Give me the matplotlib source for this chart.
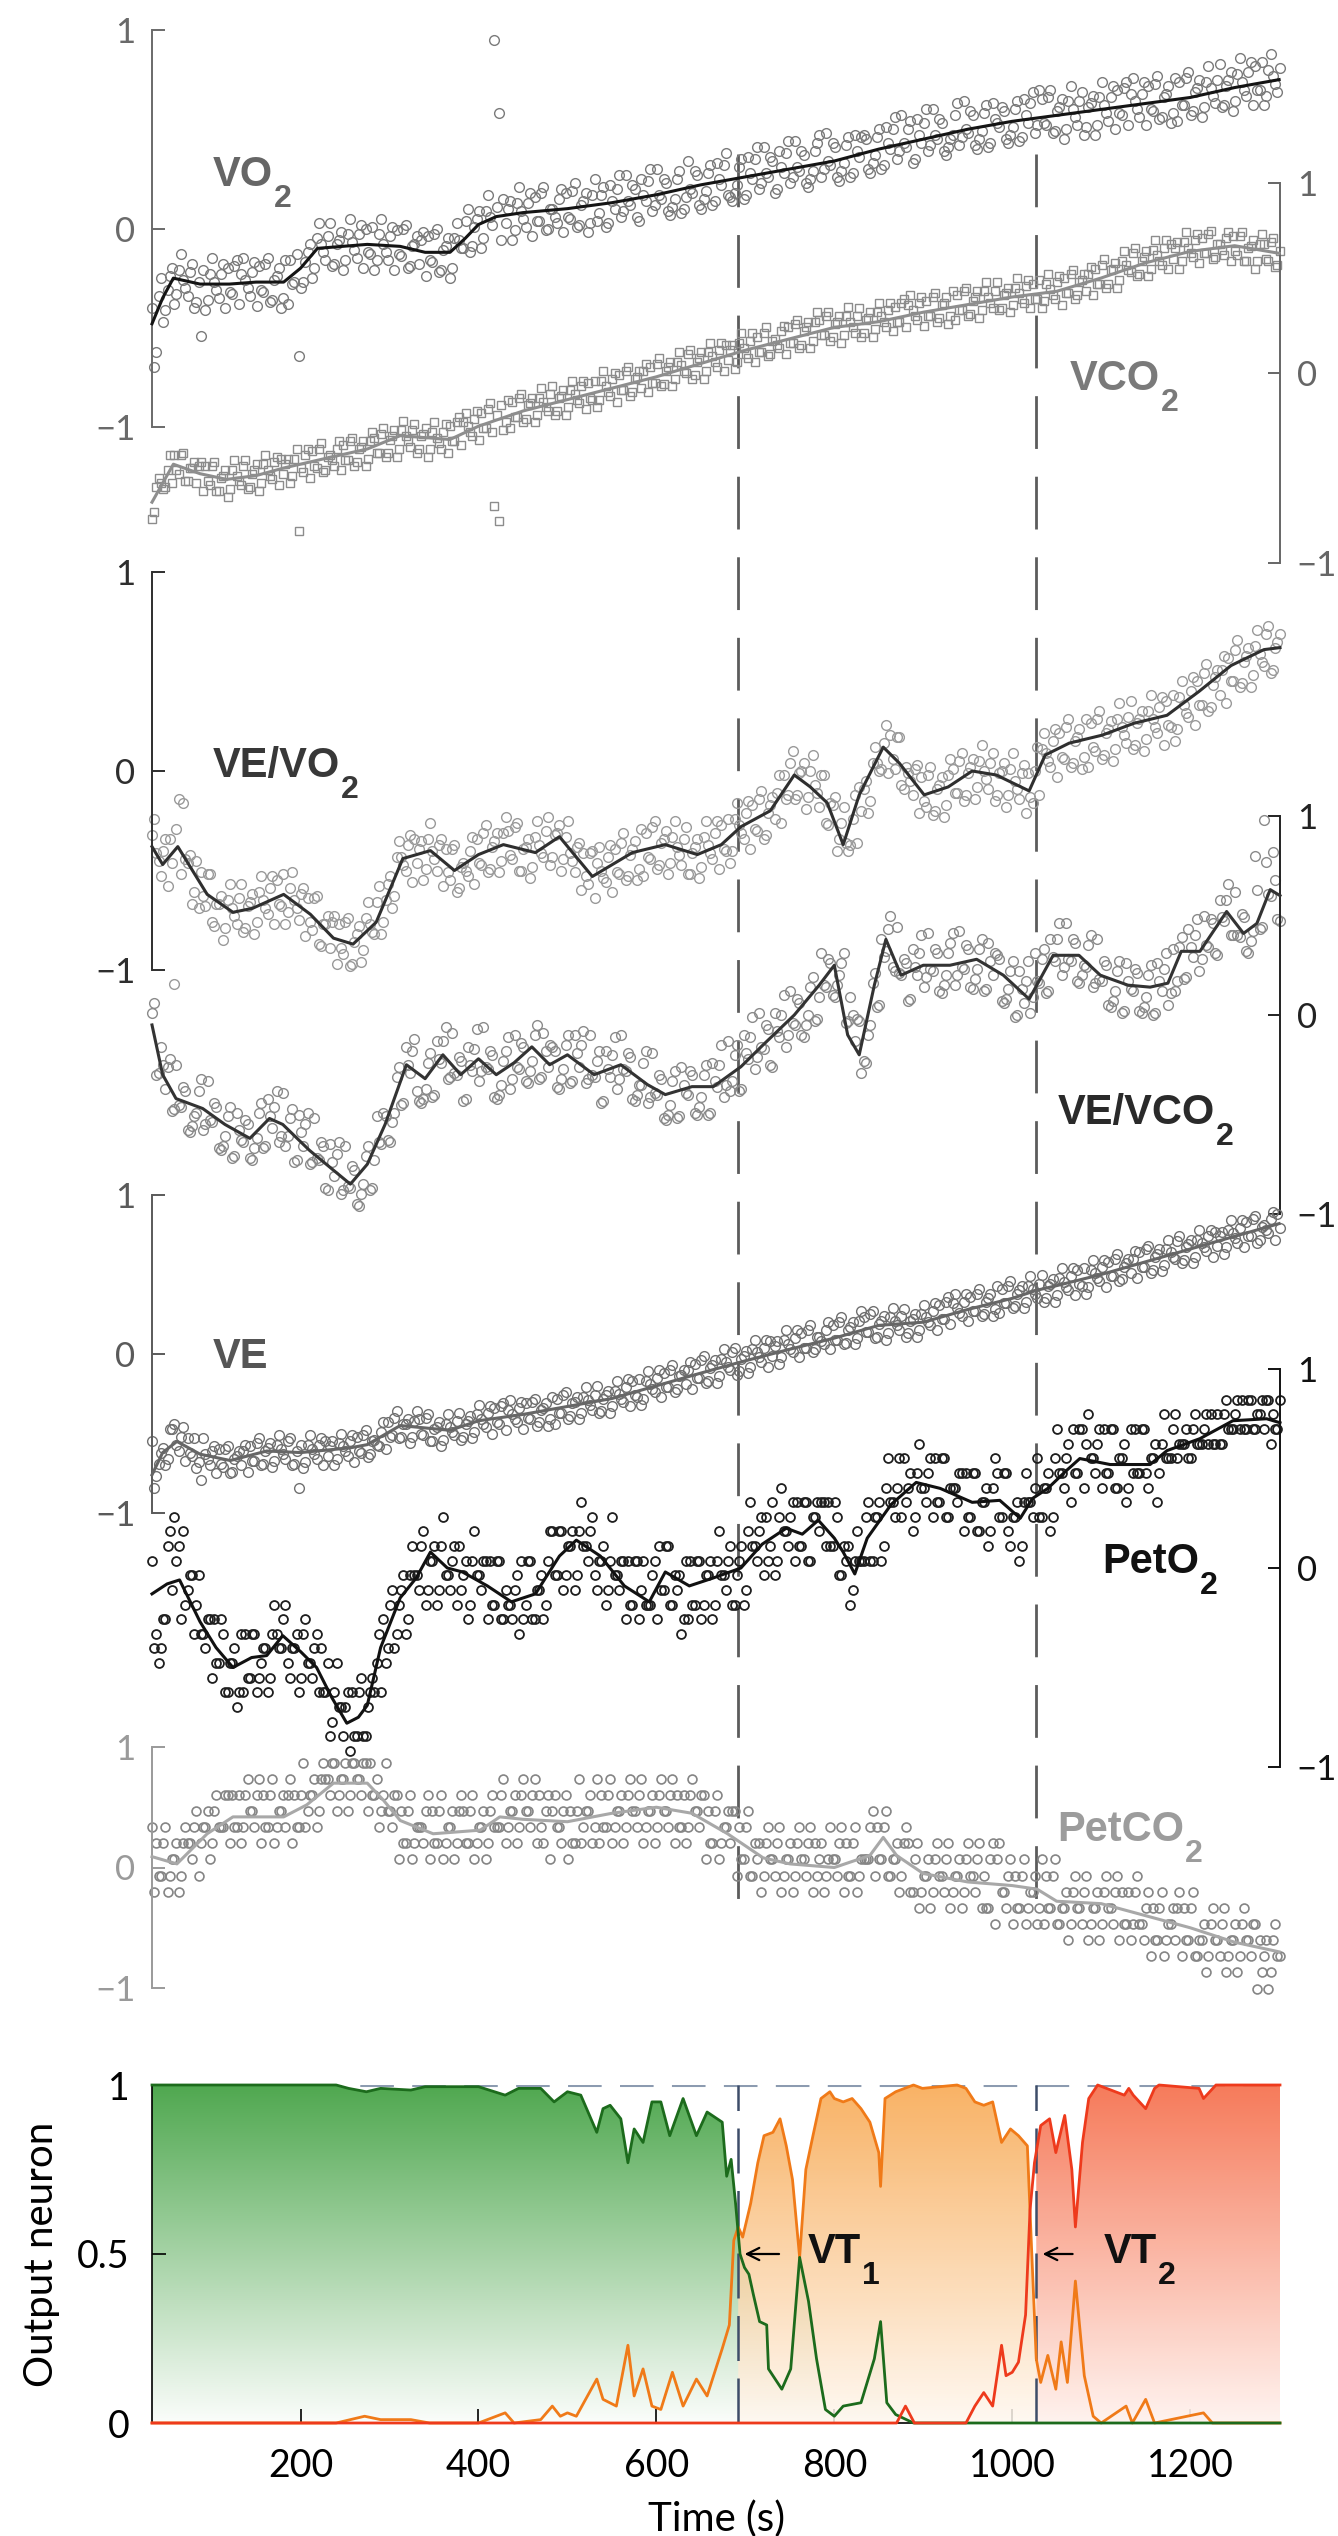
import numpy as np
import matplotlib
matplotlib.use('Agg')
import matplotlib.pyplot as plt
from matplotlib.colors import LinearSegmentedColormap
from matplotlib.patches import Polygon

plt.rcParams['font.family'] = ['Liberation Sans', 'DejaVu Sans']
plt.rcParams['axes.unicode_minus'] = True

# ------------------------------------------------------------------ data
T_START, T_END = 33, 1301
VT1, VT2 = 692, 1027
t_breath = np.arange(33, 1301, 5)          # breath samples (s), set A
t_breath2 = np.arange(35.5, 1301, 5)       # breath samples (s), set B

# values in hundredths of the normalised axis unit
vo2 = [-40,-62,-25,-41,-24,-38,-21,-26,-34,-18, -37,-54,-41,-23,-27,-35,-18,-20,-33,-16,
       -23,-26,-34,-17,-19,-32,-15,-36,-24,-40, -16,-16,-27,-64,-27,-12,-25,-5,-8,-16,
       3,-18,-6,-21,-3,-7,-15,2,0,-13, -21,-3,-8,-16,1,-1,-14,2,-19,-8,
       -18,-2,-4,-17,0,-21,-9,-25,-5,-6, -10,10,-9,5,-10,9,6,95,58,15,
       10,-6,13,9,1,18,16,4,21,0, 10,3,20,18,5,23,2,14,-2,17,
       4,17,1,22,10,27,9,14,22,6, 25,14,30,12,17,25,9,11,25,8,
       16,20,29,12,15,28,12,33,22,38, 16,18,31,15,36,25,41,23,28,36,
       18,39,28,44,26,31,39,23,25,39, 47,30,34,43,26,29,42,26,47,36,
       47,30,33,46,30,51,40,56,39,43, 50,33,55,43,60,42,47,55,39,41,
       47,63,46,50,59,42,45,58,41,63, 53,61,45,47,60,44,65,53,69,52,
       65,52,70,49,61,45,64,60,52,69, 51,63,47,66,62,54,72,70,57,74,
       68,64,56,74,72,59,77,56,68,53, 76,74,62,79,59,71,56,74,71,63,
       83,62,75,59,78,74,67,84,82,70, 62,80,77,69]
vo2_b = [-70,-34,-47,-31,-20,-33,-13,-30,-22,-40, -27,-21,-36,-15,-31,-23,-40,-32,-19,-38,
         -15,-30,-22,-39,-31,-18,-37,-26,-20,-35, -38,-28,-13,-30,-17,-8,-20,3,-12,-4,
         -19,-8,-2,-16,5,-11,-3,-20,-12,1, -16,5,-12,-4,-21,-13,0,-20,-9,-4,
         -6,-24,-16,-3,-22,-11,-5,-20,3,-10, 4,-12,1,9,-5,17,2,11,-6,3,
         14,-1,21,5,13,-4,4,18,-1,10, 6,15,-2,6,19,1,12,18,3,25,
         8,21,3,14,20,6,27,12,20,4, 17,24,9,30,15,23,7,15,29,10,
         34,18,27,10,19,32,14,25,32,17, 14,22,35,17,28,35,20,41,26,34,
         20,31,38,23,44,29,37,21,29,43, 26,48,32,41,24,33,46,28,39,46,
         45,28,37,50,32,43,50,35,57,41, 54,35,47,53,39,60,45,53,37,45,
         57,42,64,48,57,40,49,62,43,55, 51,59,43,51,64,46,57,63,48,70,
         53,66,48,59,65,50,72,56,64,47, 61,67,52,74,58,66,50,58,71,52,
         76,60,68,52,60,73,55,66,72,58, 54,62,76,57,69,75,61,82,67,75,
         61,72,79,64,86,70,79,62,70,84, 67,88,73,81]
vo2_line_t = [33,45,57,87,120,150,181,200,219,275,312,340,368,385,400,420,450,500,550,600,
              650,700,750,800,850,900,950,1000,1050,1100,1150,1200,1250,1300]
vo2_line_v = [-48,-35,-25,-28,-28,-27,-27,-20,-10,-8,-9,-12,-12,-5,2,6,8,10,13,17,
              22,26,30,34,40,45,50,54,57,60,63,66,71,75]

vco2 = [-77,-60,-58,-60,-43,-43,-53,-42,-57,-50, -58,-47,-49,-59,-47,-62,-54,-65,-51,-54,
        -59,-46,-60,-51,-62,-48,-51,-56,-44,-45, -48,-58,-45,-83,-52,-40,-41,-50,-37,-51,
        -43,-49,-36,-38,-46,-34,-47,-39,-49,-36, -34,-42,-29,-42,-33,-44,-30,-33,-39,-27,
        -40,-32,-44,-31,-34,-40,-27,-28,-36,-23, -26,-28,-33,-20,-21,-29,-16,-70,-78,-30,
        -14,-15,-23,-11,-24,-16,-26,-13,-15,-20, -7,-20,-12,-22,-9,-11,-16,-4,-5,-14,
        -18,-4,-7,-12,0,-1,-9,3,-10,-2, -8,5,3,-5,8,-6,3,-7,6,4,
        0,12,-1,8,-3,11,9,3,16,15, 12,2,16,13,8,21,19,11,24,10,
        18,13,25,24,16,28,15,24,13,27, 28,20,32,19,27,16,30,27,21,34,
        21,29,19,32,30,24,37,35,27,39, 36,33,28,40,38,30,42,29,37,26,
        43,41,33,45,31,40,29,43,40,34, 48,34,42,32,45,42,37,49,47,39,
        34,47,44,39,51,50,42,54,41,49, 43,56,55,47,60,47,55,45,59,57,
        53,66,52,61,51,65,62,57,70,68, 66,55,69,66,61,73,71,63,75,61,
        68,62,74,72,62,74,59,67,55,68, 68,59,71,57]
vco2_b = [-73,-55,-61,-51,-58,-51,-43,-57,-50,-47, -49,-62,-57,-49,-62,-55,-51,-61,-46,-57,
          -49,-61,-53,-48,-58,-43,-54,-47,-59,-53, -45,-54,-40,-50,-43,-55,-49,-40,-52,-44,
          -46,-40,-51,-46,-36,-49,-40,-36,-45,-31, -42,-32,-44,-35,-30,-40,-25,-36,-30,-42,
          -33,-29,-40,-26,-37,-31,-42,-36,-26,-38, -21,-31,-24,-35,-29,-19,-31,-22,-17,-26,
          -29,-23,-13,-26,-17,-13,-22,-8,-18,-11, -22,-13,-9,-18,-4,-14,-7,-19,-13,-4,
          -14,1,-10,-3,-15,-9,1,-12,-3,1, 1,-10,-5,5,-7,1,6,-3,11,1,
          10,-3,6,11,1,16,6,12,1,7, 15,6,21,10,17,6,11,21,9,17,
          15,22,10,16,26,13,22,27,17,32, 20,30,17,26,30,20,35,24,30,19,
          28,32,23,37,27,33,22,27,37,24, 41,30,37,25,30,40,27,36,40,30,
          28,33,43,30,38,43,33,48,37,43, 33,41,45,36,50,39,46,34,39,49,
          38,52,41,48,36,42,52,39,48,52, 52,41,47,57,45,54,58,49,64,54,
          63,51,59,64,55,70,59,66,55,60, 69,59,74,63,70,58,63,73,60,68,
          65,71,59,64,72,59,66,70,59,73, 60,69,56,64]
vco2_line_t = [33,57,87,117,150,181,237,275,312,368,400,450,500,550,600,650,700,750,800,850,
               900,950,1000,1050,1100,1150,1200,1250,1300]
vco2_line_v = [-68,-48,-53,-56,-54,-50,-44,-40,-33,-35,-28,-20,-14,-8,-2,5,12,18,24,27,
               32,36,40,43,50,58,64,67,63]

ve_vo2 = [-32,-41,-53,-34,-34,-107,-14,-16,-46,-67, -45,-51,-68,-52,-78,-67,-85,-65,-69,-77,
          -57,-79,-66,-82,-61,-65,-72,-53,-55,-68, -77,-59,-65,-75,-59,-64,-80,-63,-88,-77,
          -89,-73,-77,-92,-74,-97,-82,-96,-74,-77, -82,-58,-76,-57,-69,-43,-43,-50,-32,-34,
          -39,-55,-34,-40,-50,-34,-39,-55,-37,-59, -46,-53,-33,-34,-47,-27,-49,-35,-51,-31,
          -30,-44,-26,-50,-38,-54,-33,-37,-43,-23, -43,-31,-50,-33,-41,-51,-36,-41,-57,-40,
          -46,-50,-56,-37,-39,-52,-31,-53,-39,-55, -29,-31,-44,-25,-47,-34,-52,-33,-38,-47,
          -28,-52,-38,-54,-33,-37,-44,-25,-27,-40, -46,-24,-27,-34,-15,-17,-30,-10,-32,-17,
          -24,-2,-2,-12,10,-12,0,-19,0,-7, -18,-2,-27,-17,-40,-26,-36,-37,-12,-8,
          -9,-21,4,4,1,23,18,1,17,-9, -1,-12,3,-3,-18,2,-20,-7,-23,-2,
          1,-11,9,-12,2,-14,5,0,-9,9, -12,0,-18,1,-5,-14,3,-1,-16,12,
          11,9,2,21,19,6,26,4,17,1, 26,24,10,30,8,21,5,26,22,14,
          35,13,26,10,30,26,19,37,35,22, 15,37,33,27,47,45,33,54,32,47,
          38,58,57,45,66,44,58,42,63,59, 53,73,51,65]
ve_vo2_b = [-24,-45,-40,-58,-46,-29,-52,-44,-42,-61, -69,-63,-52,-76,-67,-63,-79,-57,-73,-64,
            -81,-68,-62,-76,-53,-69,-59,-77,-67,-52, -71,-51,-69,-62,-83,-76,-64,-87,-77,-73,
            -76,-97,-89,-76,-98,-86,-78,-90,-66,-81, -66,-82,-65,-53,-63,-35,-47,-37,-56,-46,
            -35,-49,-26,-44,-37,-58,-51,-39,-61,-48, -50,-40,-57,-46,-31,-51,-38,-31,-45,-23,
            -42,-28,-50,-39,-34,-48,-25,-41,-30,-47, -32,-27,-44,-25,-45,-38,-60,-53,-41,-64,
            -38,-54,-43,-61,-51,-36,-55,-42,-35,-49, -53,-43,-28,-49,-36,-30,-46,-25,-42,-34,
            -52,-41,-34,-48,-25,-41,-31,-49,-39,-24, -40,-16,-31,-21,-39,-29,-14,-34,-21,-13,
            -11,-26,-14,4,-14,-1,4,-13,8,-11, -2,-26,-16,-13,-34,-18,-40,-24,-36,-20,
            -5,-15,12,0,14,-1,6,17,-7,2, -5,1,-21,-15,-2,-22,-9,-3,-17,6,
            -11,5,-15,-1,6,-8,13,-4,4,-15, -1,4,-12,9,-9,-1,-21,-13,0,-12,
            19,5,15,-3,7,22,2,15,21,7, 2,12,26,6,19,25,11,34,18,27,
            11,24,30,16,38,22,32,13,23,38, 21,45,29,40,23,33,49,30,43,51,
            51,34,45,61,42,55,62,48,71,55, 69,49,62,69]
ve_vo2_line_t = [33,45,62,95,124,146,181,211,237,259,285,315,346,373,400,428,464,491,528,573,
                 610,646,673,695,728,755,773,792,810,828,855,873,901,928,955,982,1019,1037,1064,1101,
                 1137,1174,1210,1246,1283,1301]
ve_vo2_line_v = [-38,-47,-38,-62,-71,-69,-62,-72,-84,-87,-76,-44,-40,-50,-42,-37,-41,-33,-53,-41,
                 -37,-42,-37,-28,-20,-2,-8,-16,-37,-12,12,4,-12,-8,0,-2,-10,8,14,18,
                 24,28,40,53,61,62]

ve_vco2 = [1,-30,-16,-37,-22,-47,-45,-36,-58,-56, -49,-32,-55,-53,-44,-67,-66,-51,-72,-49,
           -63,-53,-72,-67,-49,-67,-42,-57,-38,-61, -66,-52,-74,-50,-66,-49,-74,-72,-64,-87,
           -65,-81,-64,-88,-86,-76,-95,-90,-71,-88, -73,-64,-49,-63,-54,-31,-45,-16,-29,-12,
           -43,-42,-24,-41,-13,-24,-6,-31,-29,-21, -43,-16,-28,-7,-28,-26,-18,-41,-40,-23,
           -11,-32,-26,-14,-33,-28,-10,-32,-9,-26, -16,-36,-32,-15,-34,-10,-26,-8,-32,-30,
           -23,-44,-18,-31,-11,-32,-27,-19,-42,-40, -35,-18,-41,-39,-30,-52,-50,-33,-52,-26,
           -39,-28,-49,-46,-30,-50,-24,-36,-15,-35, -38,-20,-38,-10,-22,-1,-21,-16,-5,-25,
           1,-11,10,-10,-4,8,-10,-5,14,-3, 9,15,28,10,15,26,-4,9,-13,-3,
           -23,-10,16,4,38,32,50,22,21,28, 7,33,20,40,19,23,33,12,15,31,
           41,20,24,35,14,18,33,12,36,20, 30,7,8,22,-1,22,6,27,9,17,
           28,11,38,27,46,24,28,38,17,20, 24,40,16,18,27,5,7,22,1,26,
           13,23,2,4,20,0,26,12,31,11, 12,34,18,43,29,48,28,35,48,31,
           58,47,66,40,40,51,32,37,80,43, 98,61,82,48]
ve_vco2_b = [6,-29,-25,-26,-48,-25,-46,-38,-59,-51, -38,-58,-33,-54,-46,-68,-61,-46,-71,-58,
             -64,-55,-73,-62,-44,-66,-51,-46,-64,-39, -61,-47,-73,-59,-55,-75,-52,-73,-66,-88,
             -74,-70,-90,-66,-87,-78,-96,-85,-66,-87, -51,-65,-51,-64,-49,-26,-44,-25,-18,-38,
             -44,-37,-19,-40,-22,-13,-32,-9,-30,-23, -42,-25,-17,-33,-6,-27,-20,-42,-35,-18,
             -37,-10,-27,-16,-34,-23,-5,-31,-18,-15, -18,-37,-27,-10,-33,-19,-15,-34,-10,-31,
             -18,-43,-27,-20,-37,-10,-28,-21,-43,-35, -24,-44,-19,-40,-32,-53,-45,-28,-51,-35,
             -40,-30,-50,-41,-25,-49,-33,-25,-41,-13, -33,-15,-37,-19,-11,-27,1,-17,-7,-26,
             -8,0,-16,12,-5,6,-11,0,19,-2, 31,14,26,9,20,31,-3,0,-2,-29,
             -24,-5,21,5,29,43,24,44,20,26, 8,24,31,14,41,22,31,11,20,36,
             15,42,23,33,13,23,38,13,27,31, 28,6,13,27,0,13,17,1,31,16,
             33,12,29,38,20,46,27,36,16,25, 35,14,38,17,25,4,12,27,2,17,
             12,21,1,9,25,1,17,23,5,33, 17,39,19,34,40,22,50,34,46,30,
             49,58,40,62,39,49,31,42,63,44, 77,60,68,47]
ve_vco2_line_t = [33,45,60,90,115,143,165,180,210,237,256,275,295,319,340,360,380,400,420,440,
                  460,480,500,530,560,590,610,640,664,695,720,755,783,800,815,828,845,858,875,900,
                  930,960,990,1019,1046,1075,1099,1130,1155,1175,1190,1211,1241,1260,1275,1290,1301]
ve_vco2_line_v = [-5,-30,-42,-47,-55,-62,-52,-55,-68,-78,-85,-75,-55,-25,-32,-20,-30,-22,-30,-24,
                  -16,-25,-20,-30,-25,-35,-40,-36,-36,-26,-15,0,15,25,-10,-20,15,38,20,25,
                  25,28,20,8,30,30,20,15,14,16,32,32,52,41,46,63,60]

ve = [-55,-77,-62,-70,-47,-44,-61,-46,-53,-64, -72,-79,-63,-70,-58,-60,-71,-58,-74,-64,
      -70,-57,-58,-67,-53,-69,-59,-71,-57,-60, -66,-53,-69,-84,-72,-57,-60,-66,-53,-55,
      -58,-70,-56,-58,-64,-51,-52,-62,-48,-63, -54,-58,-43,-43,-51,-36,-52,-44,-56,-42,
      -41,-51,-38,-55,-46,-58,-44,-46,-51,-37, -52,-42,-53,-38,-41,-46,-33,-34,-44,-31,
      -35,-38,-43,-30,-31,-41,-28,-43,-34,-45, -27,-28,-37,-24,-39,-30,-41,-27,-29,-35,
      -20,-36,-26,-37,-23,-25,-30,-16,-17,-27, -32,-17,-19,-24,-10,-12,-21,-7,-22,-13,
      -19,-5,-6,-15,-1,-17,-7,-18,-3,-5, -10,4,-11,-1,-12,3,1,-5,9,8,
      5,-6,9,6,1,15,13,4,18,3, 11,6,20,18,9,23,7,17,6,21,
      23,14,27,11,21,9,23,21,15,28, 13,22,11,25,23,18,32,31,22,36,
      32,29,24,38,36,27,41,25,35,24, 43,41,32,46,30,40,29,43,41,35,
      50,35,44,33,48,45,40,54,53,43, 38,53,51,46,59,58,49,63,47,57,
      51,65,64,55,68,53,63,52,66,64, 60,74,59,69,57,72,70,65,78,77,
      74,63,78,76,70,84,83,74,87,72, 81,76,89,88]
ve_b = [-84,-69,-59,-66,-47,-57,-52,-67,-62,-53, -68,-53,-66,-61,-75,-69,-60,-75,-66,-61,
        -61,-74,-67,-56,-70,-61,-56,-67,-51,-63, -55,-70,-61,-57,-68,-51,-63,-57,-70,-64,
        -55,-66,-50,-61,-55,-68,-61,-51,-65,-55, -57,-49,-60,-52,-40,-53,-44,-41,-52,-36,
        -50,-40,-55,-47,-43,-54,-38,-49,-42,-54, -44,-39,-49,-32,-44,-37,-50,-43,-33,-48,
        -29,-41,-34,-47,-40,-30,-45,-35,-31,-41, -44,-37,-26,-41,-31,-27,-37,-21,-32,-26,
        -37,-28,-23,-33,-17,-28,-21,-33,-26,-16, -28,-11,-22,-15,-27,-21,-10,-24,-14,-10,
        -10,-22,-15,-4,-18,-9,-4,-14,3,-8, 1,-13,-3,2,-8,9,-2,4,-8,-1,
        8,-2,15,3,10,-2,4,15,1,11, 8,15,3,9,20,6,15,20,10,27,
        14,25,10,19,24,13,29,18,24,11, 21,25,15,31,20,27,15,22,33,19,
        38,26,33,21,27,38,24,33,38,28, 26,32,43,29,38,43,33,49,38,44,
        33,43,47,37,54,42,49,37,44,54, 42,59,48,55,42,49,60,46,55,60,
        60,48,55,66,51,61,66,56,72,61, 71,57,67,72,61,78,67,74,61,68,
        77,67,84,73,79,67,74,85,70,80, 78,85,72,79]
ve_line_t = [33,45,61,87,121,162,200,256,275,312,368,400,450,500,550,600,650,695,750,800,
             850,900,950,1000,1027,1050,1100,1150,1200,1250,1300]
ve_line_v = [-76,-62,-55,-63,-67,-61,-62,-59,-57,-45,-48,-42,-38,-33,-28,-20,-12,-5,3,10,
             18,20,28,35,40,43,50,58,66,74,82]

PETO2_STEP = 0.0735          # PetO2 resolution (axis units); values stored as level index
peto2_level = [0,-5,-6,-4,2,3,1,2,-2,-1, -3,-5,-6,-4,-4,-7,-5,-9,-7,-10,
               -5,-5,-8,-5,-8,-6,-9,-5,-5,-6, -3,-8,-6,-9,-5,-7,-8,-5,-6,-9,
               -12,-9,-10,-12,-9,-9,-12,-8,-12,-9, -9,-5,-4,-6,-2,-5,-2,-5,-1,-1,
               -2,2,-2,0,-3,1,-1,-2,1,1, -1,-4,0,-1,-2,0,0,-3,0,-4,
               -3,-4,-1,0,-3,0,-4,-2,-4,0, 2,-1,2,-1,1,-2,2,1,0,3,
               -2,0,-3,0,-1,-2,0,0,-3,0, -2,-3,-3,0,1,-2,1,-3,-2,-5,
               0,0,-3,0,-3,-1,-4,0,-1,-2, 1,-3,0,-3,2,1,0,3,3,1,
               -1,3,2,1,4,4,1,4,0,3, 2,4,4,1,3,-1,0,-3,0,0,
               0,4,0,3,0,5,4,3,7,7, 5,2,6,5,4,7,7,4,7,3,
               5,4,6,6,3,6,2,4,1,5, 6,3,6,1,3,0,4,4,3,7,
               3,5,2,7,6,5,8,9,6,9, 8,7,6,9,9,6,9,5,7,4,
               9,9,6,9,5,7,4,8,7,7, 10,8,8,7,9,8,8,10,10,8,
               8,10,9,9,11,11,9,11,9,10, 9,11,10,9]
peto2_level_b = [-6,-7,-4,1,-2,0,-4,-3,-1,-5, -1,-5,-4,-8,-7,-4,-9,-7,-6,-9,
                 -9,-8,-5,-9,-7,-6,-8,-3,-6,-4, -7,-6,-5,-8,-4,-7,-6,-9,-9,-7,
                 -11,-7,-10,-10,-13,-12,-9,-12,-10,-8, -7,-9,-7,-3,-6,-3,-1,-4,1,-1,
                 1,-3,0,1,-2,3,-1,0,-3,-2, 0,-3,2,-1,0,-4,-3,0,-4,-2,
                 -3,-2,-5,-4,0,-4,-2,-1,-3,2, -1,2,-2,1,2,-1,4,1,2,-1,
                 0,1,-2,3,-1,0,-4,-3,0,-4, 0,-3,-1,-4,-2,1,-3,-1,-1,-4,
                 -4,-3,0,-4,-1,0,-3,2,-1,0, -3,-1,1,-2,4,1,2,-1,0,4,
                 0,5,2,3,0,1,4,0,3,4, 4,1,1,4,-1,1,1,-2,2,0,
                 3,0,3,4,1,7,4,5,3,4, 6,3,8,5,6,3,4,7,3,5,
                 5,6,2,3,6,2,4,5,2,7, 3,6,2,3,4,1,6,4,5,3,
                 5,6,3,9,6,7,4,6,9,5, 10,7,8,5,6,9,5,7,8,5,
                 6,6,9,6,7,8,6,10,7,9, 7,8,9,7,10,8,9,8,8,10,
                 8,11,9,10,9,9,11,9,10,11, 11,8,9,11]
peto2_line_t = [33,50,64,87,105,124,145,162,180,200,218,235,252,265,275,290,312,330,346,365,
                382,410,437,464,491,510,537,564,592,610,637,664,695,719,746,764,782,800,810,823,
                837,864,892,919,955,986,1009,1023,1040,1061,1076,1110,1155,1174,1211,1248,1286,1301]
peto2_line_v = [-13,-8,-6,-27,-40,-50,-45,-44,-34,-42,-50,-65,-78,-75,-69,-40,-15,-5,8,0,
                -2,-9,-17,-13,6,14,6,-9,-17,-2,-9,-5,0,12,20,17,24,15,8,-3,
                15,32,43,40,33,34,25,35,40,49,55,52,52,59,65,74,75,73]

PETCO2_STEP = 0.134          # PetCO2 resolution (axis units); values stored as level index
petco2_level = [2,1,-1,2,-1,0,-2,1,1,0, 3,1,2,0,3,2,2,4,4,2,
                1,4,3,2,5,4,2,5,2,3, 2,5,4,2,6,3,4,2,5,5,
                4,6,4,5,3,6,5,4,6,6, 4,2,4,3,2,4,3,1,4,1,
                2,1,4,3,1,4,1,2,0,3, 3,1,4,1,2,0,3,2,2,5,
                2,3,1,4,3,2,5,4,1,4, 3,2,1,4,3,1,5,2,3,1,
                5,4,2,5,2,3,1,4,3,2, 5,2,3,1,4,3,2,5,4,2,
                1,4,3,2,4,3,1,4,1,2, 1,3,2,0,3,-1,0,-2,1,0,
                -1,2,-1,0,-2,1,0,-1,2,1, 0,-2,0,0,-1,2,1,-1,2,-1,
                0,0,3,2,0,3,-1,0,-2,1, 1,-2,1,-2,-1,-3,0,-1,-2,1,
                -2,-1,-3,0,-1,-2,1,-1,-3,1, 0,-2,-3,0,-1,-3,0,-3,-2,-4,
                0,-1,-3,0,-4,-3,-5,-2,-3,-4, -1,-4,-3,-5,-2,-3,-4,-1,-2,-4,
                -5,-2,-4,-5,-2,-3,-5,-2,-5,-4, -5,-2,-3,-5,-2,-6,-5,-7,-4,-5,
                -6,-3,-6,-5,-7,-4,-5,-6,-4,-5, -6,-8,-5,-6]
petco2_level_b = [-2,-1,1,-2,0,1,-1,2,1,2, -1,2,3,1,4,2,4,1,2,4,
                  2,5,3,4,1,2,4,1,3,4, 4,1,2,4,2,4,5,3,6,5,
                  6,3,5,6,4,6,5,6,3,4, 5,3,6,3,4,0,1,3,0,2,
                  2,3,0,1,3,0,2,3,1,4, 1,3,0,2,3,1,4,2,4,1,
                  3,4,2,5,3,4,1,2,3,0, 4,2,3,0,1,3,1,3,4,2,
                  1,2,4,1,3,4,2,5,3,4, 1,3,4,2,5,3,4,1,2,4,
                  2,5,3,4,0,1,3,0,2,3, 3,-1,0,2,-1,1,1,-1,2,0,
                  1,-2,0,1,-1,2,0,1,-2,-1, 1,-1,2,0,1,-2,-1,1,-2,0,
                  0,2,-1,0,2,-1,0,1,-1,2, -2,0,-3,-1,0,-2,1,-1,0,-3,
                  -1,0,-2,1,-1,0,-3,-3,0,-4, 1,-2,-1,-4,-3,-1,-4,-2,-1,-3,
                  -4,-3,-1,-4,-3,-2,-4,-1,-3,-2, -5,-3,-2,-4,-1,-3,-2,-5,-4,-2,
                  -4,-1,-4,-3,-6,-5,-3,-6,-4,-3, -3,-6,-5,-3,-6,-5,-4,-6,-3,-5,
                  -4,-7,-5,-4,-6,-3,-5,-4,-8,-7, -5,-7,-4,-6]
petco2_line_t = [33,61,95,124,181,207,237,275,293,312,349,402,424,450,500,550,600,640,680,700,
                 720,750,800,840,855,870,900,950,1000,1028,1050,1100,1150,1200,1250,1300]
petco2_line_v = [9,3,28,42,42,52,70,70,56,39,28,31,42,40,38,45,50,45,28,18,
                 8,3,0,10,25,10,-5,-12,-15,-18,-28,-30,-40,-50,-62,-70]

# output neurons
green_t = [33,240,254,274,290,324,340,400,430,445,470,485,500,515,533,540,548,560,568,575,
           585,595,605,615,630,645,657,674,679,684,689,694,699,704,709,716,724,726,741,751,
           761,771,780,790,800,810,830,845,852,859,869,889,1301]
green_v = [1.0,1.0,0.99,0.98,0.99,0.985,0.995,0.995,0.97,0.99,0.99,0.95,0.98,0.97,0.86,0.93,0.94,0.90,0.77,0.87,
           0.83,0.95,0.95,0.85,0.96,0.85,0.92,0.89,0.73,0.78,0.65,0.50,0.46,0.44,0.38,0.30,0.29,0.16,0.10,0.16,
           0.49,0.36,0.19,0.04,0.02,0.05,0.06,0.19,0.30,0.06,0.025,0.0,0.0]
orange_t = [33,240,272,290,324,345,400,430,440,470,483,492,500,510,533,540,555,568,575,585,
            595,605,618,630,645,657,674,682,687,692,697,706,714,721,731,739,746,753,761,768,
            776,785,795,800,810,820,830,840,850,852,857,869,889,899,938,948,958,968,978,988,
            998,1007,1017,1022,1027,1032,1040,1049,1055,1062,1071,1081,1091,1100,1128,1135,1150,1160,1215,1225,1301]
orange_v = [0,0,0.02,0.01,0.01,0.0,0.0,0.03,0.0,0.01,0.05,0.02,0.03,0.02,0.13,0.07,0.05,0.23,0.08,0.16,
            0.05,0.04,0.15,0.05,0.13,0.08,0.22,0.29,0.54,0.58,0.55,0.65,0.77,0.85,0.86,0.90,0.82,0.72,0.49,0.75,
            0.85,0.96,0.98,0.96,0.95,0.96,0.93,0.89,0.80,0.70,0.96,0.98,1.0,0.99,1.0,0.99,0.95,0.94,0.95,0.83,
            0.87,0.85,0.82,0.50,0.19,0.12,0.20,0.10,0.24,0.12,0.42,0.14,0.02,0.0,0.05,0.0,0.07,0.0,0.03,0.0,0.0]
red_t = [33,870,880,890,948,958,968,978,988,993,1000,1007,1015,1020,1025,1032,1042,1049,1059,1067,
         1071,1079,1086,1096,1126,1131,1136,1150,1160,1165,1210,1215,1229,1301]
red_v = [0,0,0.05,0,0,0.05,0.09,0.05,0.23,0.14,0.15,0.18,0.32,0.63,0.77,0.88,0.90,0.80,0.91,0.75,
         0.58,0.83,0.96,1.0,0.97,0.99,0.97,0.93,0.99,1.0,0.99,0.96,1.0,1.0]

x_ticks = [200, 400, 600, 800, 1000, 1200]

# ------------------------------------------------------------------ layout
W, H = 1338, 2536
fig = plt.figure(figsize=(W / 100, H / 100), dpi=100)
renderer = fig.canvas.get_renderer()
L_PX, R_PX = 152, 1280
AX_L, AX_W = L_PX / W, (R_PX - L_PX) / W

TICK_FONT = ['Lato', 'DejaVu Sans']
LABEL_FONT = ['Liberation Sans', 'DejaVu Sans']


def panel(y_one, y_minus, side, color):
    ax = fig.add_axes([AX_L, 1 - y_minus / H, AX_W, (y_minus - y_one) / H])
    ax.set_xlim(T_START, T_END)
    ax.set_ylim(-1, 1)
    ax.patch.set_alpha(0)
    for sp in ['top', 'bottom', 'left', 'right']:
        ax.spines[sp].set_visible(False)
    ax.spines[side].set_visible(True)
    ax.spines[side].set_color(color)
    ax.spines[side].set_linewidth(1.4)
    ax.set_xticks([])
    ax.set_yticks([-1, 0, 1])
    if side == 'right':
        ax.yaxis.tick_right()
    ax.tick_params(axis='y', direction='in', length=9, width=1.4, color=color,
                   labelcolor=color, labelsize=25, pad=12)
    for lab in ax.get_yticklabels():
        lab.set_family(TICK_FONT)
    return ax


def draw_series(ax, vals, vals_b, lt, lv, mcolor, lcolor, marker='o', ms=7.0, mew=1.0, lw=2.2):
    for tt, vv in ((t_breath, vals), (t_breath2, vals_b)):
        n = min(len(tt), len(vv))
        ax.plot(tt[:n], np.asarray(vv)[:n], linestyle='none', marker=marker, mfc='none', mec=mcolor,
                ms=ms, mew=mew, clip_on=False, zorder=2)
    ax.plot(lt, lv, color=lcolor, lw=lw, clip_on=False, zorder=3, solid_joinstyle='round')


def label(x, y, main, sub, color, size=30, subsize=23, drop=21):
    t = fig.text(x / W, 1 - y / H, main, fontsize=size, fontweight='bold', color=color,
                 ha='left', va='baseline', family=LABEL_FONT)
    if sub:
        bb = t.get_window_extent(renderer)
        fig.text((bb.x1 + 1) / W, 1 - (y + drop) / H, sub, fontsize=subsize, fontweight='bold',
                 color=color, ha='left', va='baseline', family=LABEL_FONT)


# dashed threshold lines across the upper panels
ov = fig.add_axes([AX_L, 0, AX_W, 1])
ov.set_xlim(T_START, T_END)
ov.set_ylim(H, 0)
ov.axis('off')
ov.set_zorder(0)
for vt in (VT1, VT2):
    ov.plot([vt, vt], [154, 1920], color='#5c5c5c', lw=2.0, ls=(0, (19, 10)), zorder=1)

s = 0.01
ax1 = panel(30, 427, 'left', '#6a6a6a')
draw_series(ax1, np.array(vo2) * s, np.array(vo2_b) * s, vo2_line_t, np.array(vo2_line_v) * s,
            '#7a7a7a', '#141414')
ax2 = panel(183, 563, 'right', '#666666')
draw_series(ax2, np.array(vco2) * s, np.array(vco2_b) * s, vco2_line_t, np.array(vco2_line_v) * s,
            '#8c8c8c', '#8e8e8e', marker='s', ms=6.2)
ax3 = panel(572, 970, 'left', '#2e2e2e')
draw_series(ax3, np.array(ve_vo2) * s, np.array(ve_vo2_b) * s, ve_vo2_line_t, np.array(ve_vo2_line_v) * s,
            '#9a9a9a', '#2f2f2f')
ax4 = panel(816, 1214, 'right', '#222222')
draw_series(ax4, np.array(ve_vco2) * s, np.array(ve_vco2_b) * s, ve_vco2_line_t, np.array(ve_vco2_line_v) * s,
            '#8a8a8a', '#333333')
ax5 = panel(1195, 1513, 'left', '#5a5a5a')
draw_series(ax5, np.array(ve) * s, np.array(ve_b) * s, ve_line_t, np.array(ve_line_v) * s,
            '#707070', '#666666')
ax6 = panel(1369, 1767, 'right', '#111111')
draw_series(ax6, (np.array(peto2_level) + 0.5) * PETO2_STEP, (np.array(peto2_level_b) + 0.5) * PETO2_STEP,
            peto2_line_t, np.array(peto2_line_v) * s, '#1e1e1e', '#111111', ms=6.4, mew=1.3)
ax7 = panel(1747, 1988, 'left', '#9a9a9a')
draw_series(ax7, (np.array(petco2_level) + 0.5) * PETCO2_STEP, (np.array(petco2_level_b) + 0.5) * PETCO2_STEP,
            petco2_line_t, np.array(petco2_line_v) * s, '#858585', '#a8a8a8', ms=6.4, mew=1.2)

label(213, 186, 'VO', '2', '#666666')
label(1070, 390, 'VCO', '2', '#7a7a7a')
label(213, 777, 'VE/VO', '2', '#383838')
label(1058, 1124, 'VE/VCO', '2', '#2a2a2a')
label(213, 1368, 'VE', None, '#555555')
label(1102, 1573, 'PetO', '2', '#111111')
label(1057, 1841, 'PetCO', '2', '#9c9c9c')

# ------------------------------------------------------------------ bottom panel
axb = fig.add_axes([AX_L, 1 - 2423 / H, AX_W, (2423 - 2085) / H])
axb.patch.set_alpha(0)


def grad_fill(ax, tx, ty, t0, t1, c_top, c_bot, alpha, z):
    tx = np.asarray(tx, float)
    ty = np.asarray(ty, float)
    inside = (tx > t0) & (tx < t1)
    xs = np.concatenate([[t0], tx[inside], [t1]])
    ys = np.concatenate([[np.interp(t0, tx, ty)], ty[inside], [np.interp(t1, tx, ty)]])
    verts = np.column_stack([np.r_[xs, t1, t0], np.r_[ys, 0, 0]])
    poly = Polygon(verts, closed=True, facecolor='none', edgecolor='none', transform=ax.transData)
    ax.add_patch(poly)
    cmap = LinearSegmentedColormap.from_list('g', [c_bot, c_top])
    im = ax.imshow(np.linspace(0, 1, 256)[:, None], cmap=cmap, extent=[t0, t1, 0, 1],
                   origin='lower', aspect='auto', alpha=alpha, zorder=z, interpolation='bilinear')
    im.set_clip_path(poly)


grad_fill(axb, green_t, green_v, T_START, T_END, '#50a850', '#fbfdfb', 1.0, 1)
grad_fill(axb, orange_t, orange_v, VT1, T_END, '#f8a54a', '#fff8f0', 0.85, 2)
grad_fill(axb, red_t, red_v, VT2, T_END, '#f66f4c', '#fff3ef', 0.92, 3)

axb.plot([T_START, T_END], [1, 1], color='#8c9bb0', lw=2.2, ls=(0, (11, 6)), zorder=0.5)
for vt in (VT1, VT2):
    axb.plot([vt, vt], [0, 1], color='#3e4d69', lw=1.8, ls=(0, (18, 7)), zorder=4)

axb.plot(orange_t, orange_v, color='#f07a18', lw=2.0, zorder=5, clip_on=False)
axb.plot(green_t, green_v, color='#1c6b1c', lw=2.0, zorder=6, clip_on=False)
axb.plot(red_t, red_v, color='#ee3a1c', lw=2.0, zorder=7, clip_on=False)

axb.set_xlim(T_START, T_END)
axb.set_ylim(0, 1)
for sp in ['top', 'right']:
    axb.spines[sp].set_visible(False)
for sp in ['left', 'bottom']:
    axb.spines[sp].set_linewidth(1.2)
axb.set_xticks(x_ticks)
axb.set_yticks([0, 0.5, 1])
axb.set_yticklabels(['0', '0.5', '1'])
axb.tick_params(axis='both', direction='in', length=10, width=1.2, labelsize=27)
axb.tick_params(axis='x', pad=18)
axb.tick_params(axis='y', pad=16)
for lab in axb.get_xticklabels() + axb.get_yticklabels():
    lab.set_family(TICK_FONT)
axb.set_xlabel('Time (s)', fontsize=29, family=TICK_FONT, labelpad=12)
axb.set_ylabel('Output neuron', fontsize=29, family=TICK_FONT, labelpad=12)

for x_from, x_to in ((741, VT1 + 4), (1071, VT2 + 4)):
    axb.annotate('', xy=(x_to, 0.5), xytext=(x_from, 0.5),
                 arrowprops=dict(arrowstyle='->', color='black', lw=1.6, mutation_scale=22), zorder=8)

# VT labels (figure pixel coordinates)
label(808, 2263, 'VT', '1', '#111111')
label(1104, 2263, 'VT', '2', '#111111')

fig.savefig('out.png', dpi=100)
